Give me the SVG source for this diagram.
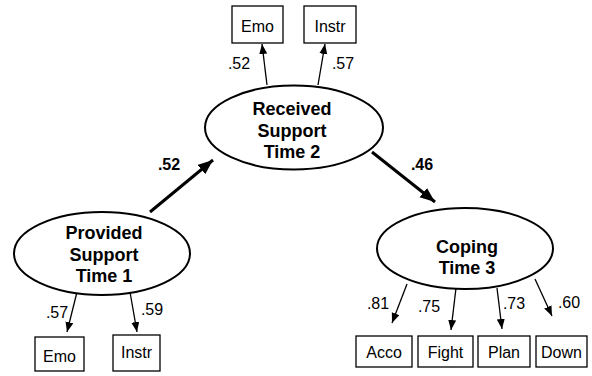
<svg xmlns="http://www.w3.org/2000/svg" width="592" height="376" viewBox="0 0 592 376">
<defs>
<style>
.lat{fill:#fff;stroke:#000;stroke-width:2}
.box{fill:#fff;stroke:#000;stroke-width:1.3}
.lt{font-family:"Liberation Sans",Arial,sans-serif;font-weight:bold;font-size:18px;text-anchor:middle;fill:#000}
.bt{font-family:"Liberation Sans",Arial,sans-serif;font-size:16px;text-anchor:middle;fill:#000}
.num{font-family:"Liberation Sans",Arial,sans-serif;font-size:16px;text-anchor:middle;fill:#000}
.bnum{font-family:"Liberation Sans",Arial,sans-serif;font-weight:bold;font-size:16px;text-anchor:middle;fill:#000}
.thin{stroke:#000;stroke-width:1.3;fill:none;marker-end:url(#ah)}
.thick{stroke:#000;stroke-width:3;fill:none;marker-end:url(#ahb)}
</style>
<marker id="ah" markerUnits="userSpaceOnUse" markerWidth="11" markerHeight="9" refX="10" refY="4" orient="auto"><path d="M0,0 L10,4 L0,8 z" fill="#000"/></marker>
<marker id="ahb" markerUnits="userSpaceOnUse" markerWidth="16" markerHeight="13" refX="15" refY="6" orient="auto"><path d="M0,0 L15,6 L0,12 z" fill="#000"/></marker>
</defs>
<g id="connectors">
<line class="thick" x1="150" y1="212" x2="213" y2="160"/>
<line class="thick" x1="372" y1="152" x2="435" y2="202"/>
<line class="thin" x1="267" y1="85" x2="262" y2="44"/>
<line class="thin" x1="318" y1="85" x2="325" y2="44"/>
<line class="thin" x1="77" y1="292" x2="67" y2="332"/>
<line class="thin" x1="130" y1="292" x2="137" y2="332"/>
<line class="thin" x1="407" y1="284" x2="392" y2="323"/>
<line class="thin" x1="456" y1="288" x2="451" y2="330"/>
<line class="thin" x1="497" y1="288" x2="502" y2="329"/>
<line class="thin" x1="535" y1="279" x2="552" y2="316"/>
<text class="bnum" x="169" y="170">.52</text>
<text class="bnum" x="422" y="170">.46</text>
<text class="num" x="239" y="69">.52</text>
<text class="num" x="343" y="69">.57</text>
<text class="num" x="57" y="318">.57</text>
<text class="num" x="152" y="315">.59</text>
<text class="num" x="378" y="309">.81</text>
<text class="num" x="429" y="312">.75</text>
<text class="num" x="514" y="309">.73</text>
<text class="num" x="569" y="308">.60</text>
</g>
<g id="provided">
<ellipse class="lat" cx="102" cy="253.5" rx="88" ry="41.5"/>
<text class="lt" x="104" y="239">Provided</text>
<text class="lt" x="104" y="260.5">Support</text>
<text class="lt" x="104" y="282">Time 1</text>
</g>
<g id="received">
<ellipse class="lat" cx="294" cy="127.5" rx="89" ry="42"/>
<text class="lt" x="292" y="115">Received</text>
<text class="lt" x="292" y="136.5">Support</text>
<text class="lt" x="292" y="158">Time 2</text>
</g>
<g id="coping">
<ellipse class="lat" cx="465" cy="248.5" rx="88" ry="40.5"/>
<text class="lt" x="467" y="253">Coping</text>
<text class="lt" x="467" y="274">Time 3</text>
</g>
<g id="emo2"><rect class="box" x="232" y="6" width="51" height="37"/><text class="bt" x="257.5" y="32">Emo</text></g>
<g id="instr2"><rect class="box" x="304" y="6" width="52" height="37"/><text class="bt" x="330" y="32">Instr</text></g>
<g id="emo1"><rect class="box" x="35" y="337" width="49" height="34"/><text class="bt" x="59.5" y="362">Emo</text></g>
<g id="instr1"><rect class="box" x="113" y="335" width="47" height="36"/><text class="bt" x="136.5" y="358">Instr</text></g>
<g id="acco"><rect class="box" x="356" y="336" width="56" height="31"/><text class="bt" x="384" y="358">Acco</text></g>
<g id="fight"><rect class="box" x="418" y="336" width="55" height="31"/><text class="bt" x="445.5" y="358">Fight</text></g>
<g id="plan"><rect class="box" x="478" y="336" width="52" height="31"/><text class="bt" x="504" y="358">Plan</text></g>
<g id="down"><rect class="box" x="536" y="336" width="51" height="31"/><text class="bt" x="561.5" y="358">Down</text></g>
</svg>
